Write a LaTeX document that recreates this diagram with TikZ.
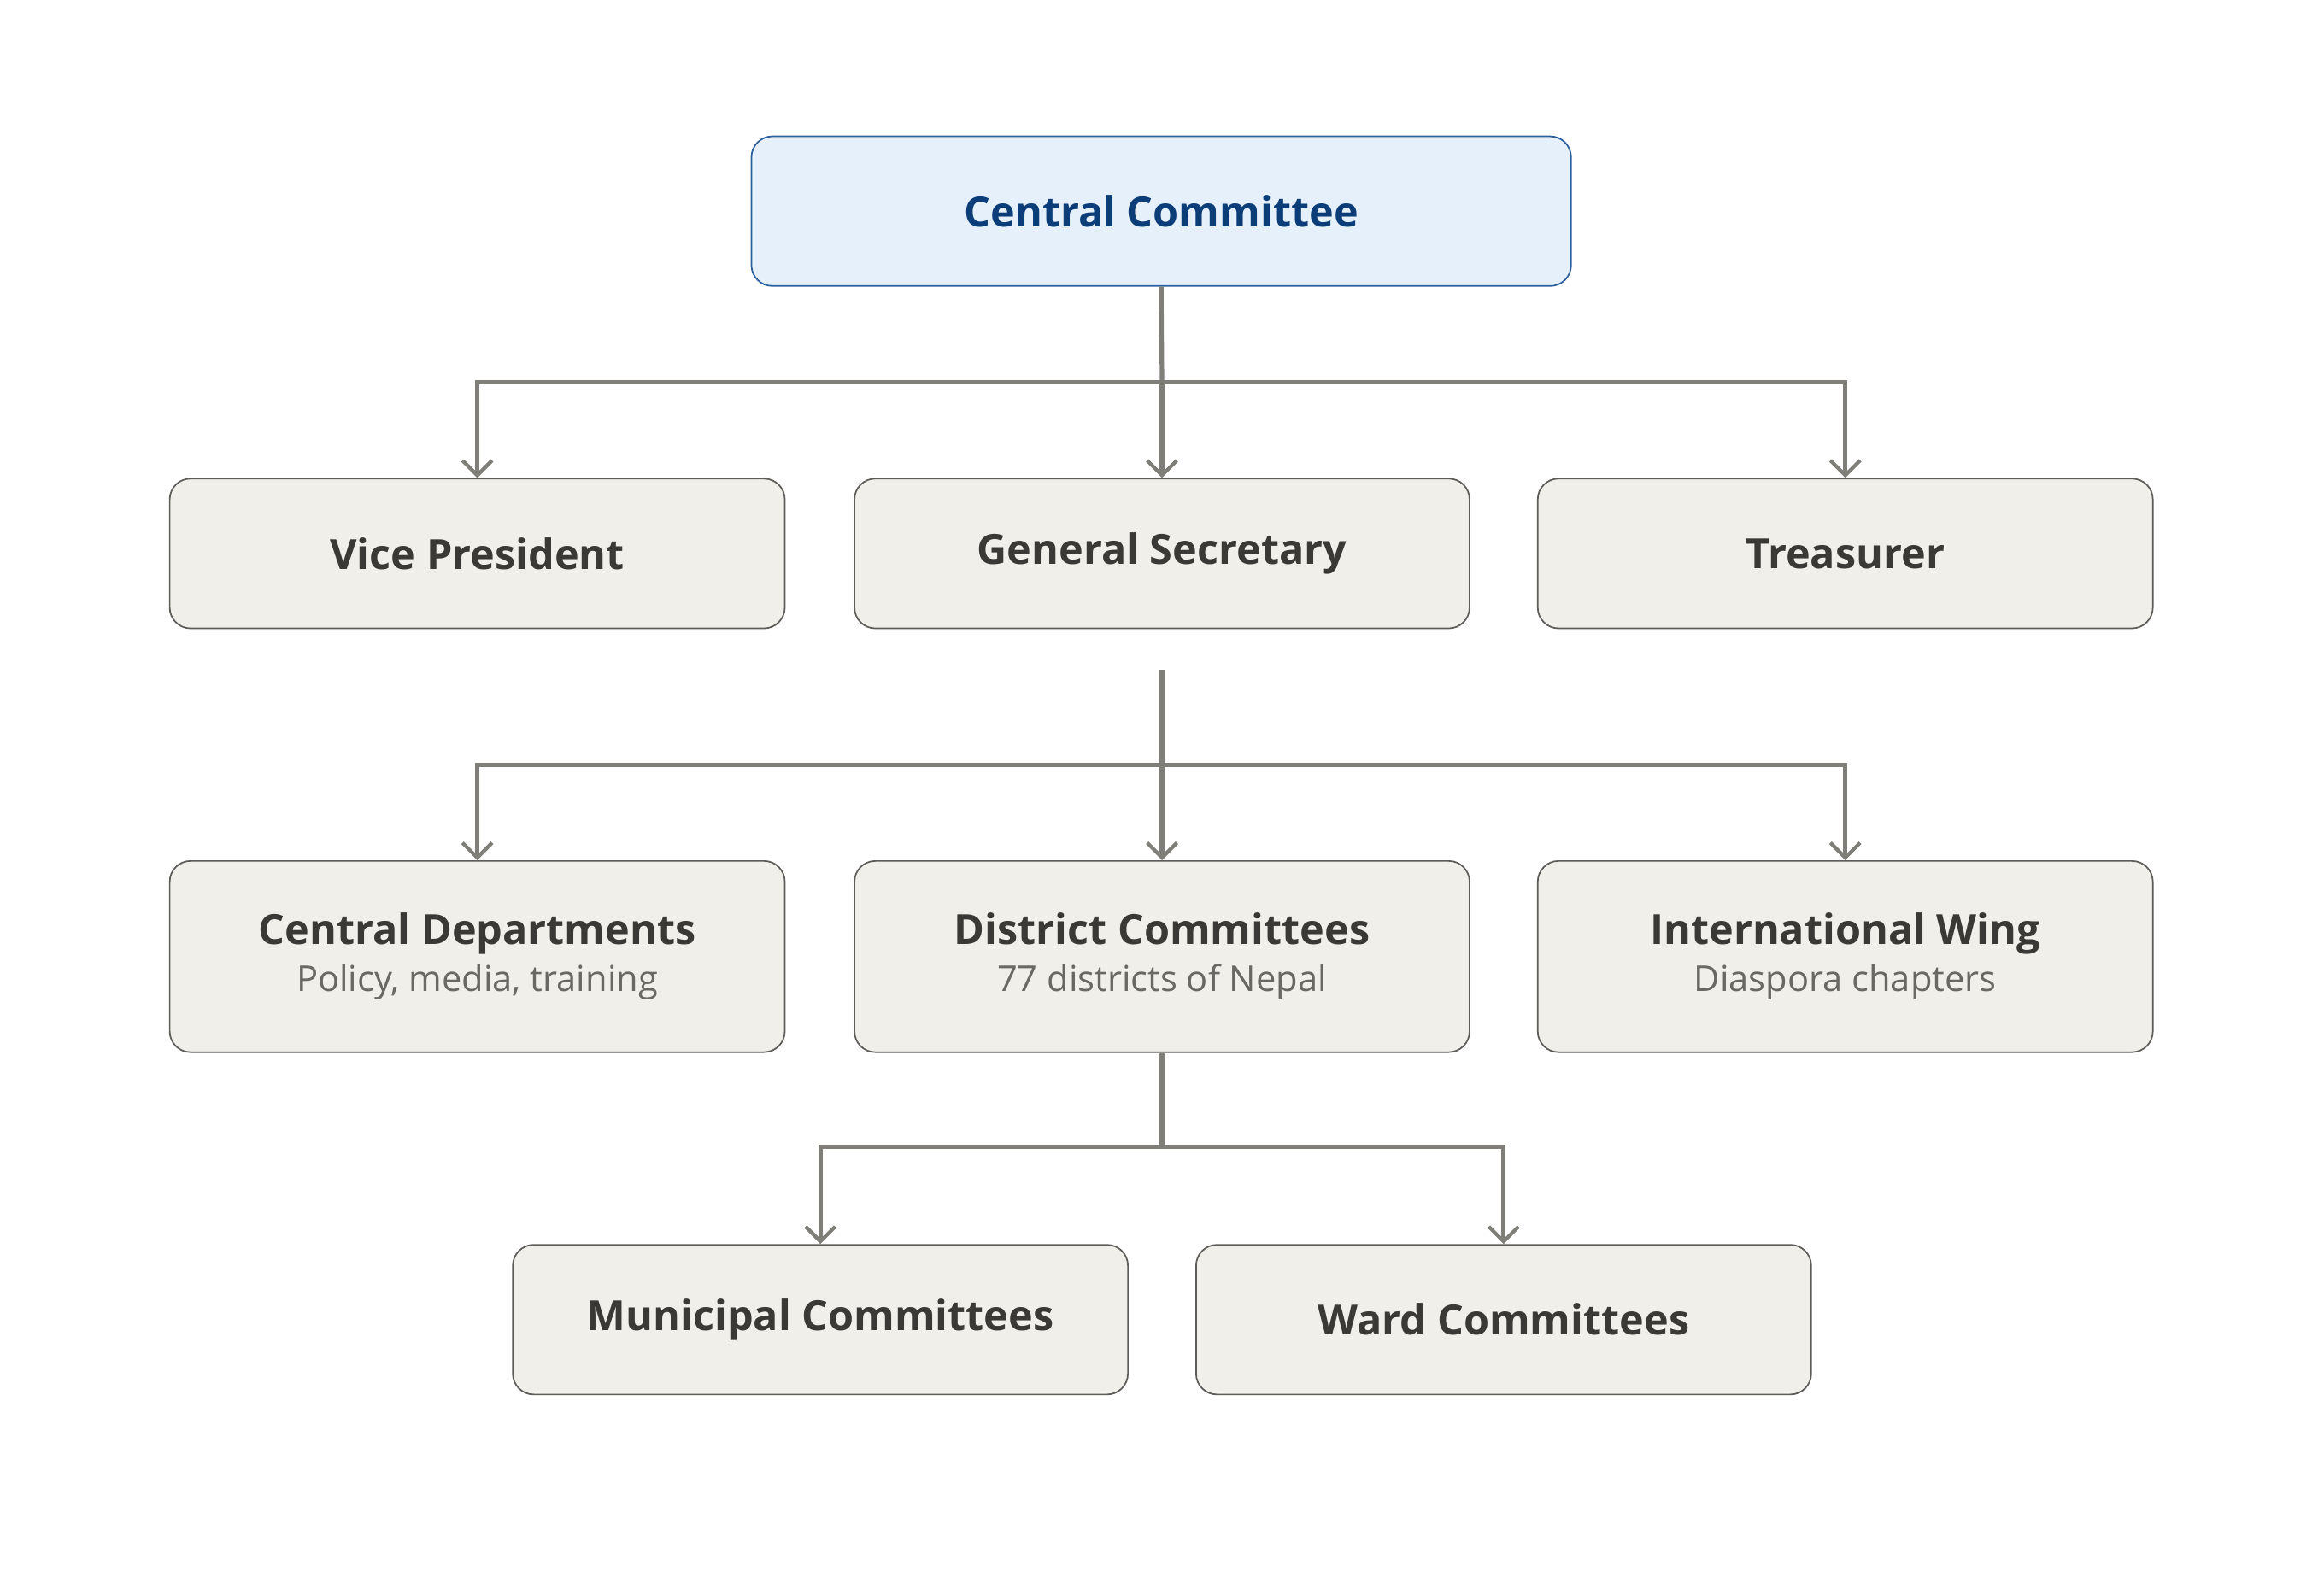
\documentclass[tikz,border=0pt]{standalone}
\usepackage{fontspec}
\setmainfont{Open Sans}
\usetikzlibrary{arrows.meta}
\definecolor{boxfill}{HTML}{F1EFE9}
\definecolor{boxline}{HTML}{5E5C58}
\definecolor{topfill}{HTML}{E6F0FA}
\definecolor{topline}{HTML}{2C5F9E}
\definecolor{toptext}{HTML}{0B3D78}
\definecolor{titletext}{HTML}{3A3935}
\definecolor{subtext}{HTML}{6A6862}
\definecolor{linkcol}{HTML}{7F7E79}
\newcommand{\subline}[1]{{\fontsize{24}{30}\selectfont\mdseries\color{subtext}#1}}

\begin{document}
\begin{tikzpicture}[x=1pt,y=-1pt,
  unit/.style = {draw=boxline, fill=boxfill, rounded corners=14pt, line width=1pt,
                 minimum width=415pt, minimum height=101pt, inner sep=0pt,
                 text=titletext, font=\fontsize{28}{34}\selectfont\bfseries, align=center},
  tall/.style = {unit, minimum height=129pt},
  top/.style  = {unit, fill=topfill, draw=topline, text=toptext, minimum width=553pt},
  link/.style = {draw=linkcol, line width=3pt},
  arr/.style  = {link, -{Straight Barb[length=10pt,width=20pt,line width=2.5pt]}}
]
\useasboundingbox (0,0) rectangle (1568,1060);

% nodes
\node[top]  (cc)  at (783.5,142.5) {Central Committee};
\node[unit] (vp)  at (322,373.5)   {Vice President};
\node[unit] (gs)  at (784,373.5)   {General Secretary};
\node[unit] (tr)  at (1245,373.5)  {Treasurer};
\node[tall] (cd)  at (322,645.5)   {Central Departments\\[-2pt]\subline{Policy, media, training}};
\node[tall] (dc)  at (784,645.5)   {District Committees\\[-2pt]\subline{77 districts of Nepal}};
\node[tall] (iw)  at (1245,645.5)  {International Wing\\[-2pt]\subline{Diaspora chapters}};
\node[unit] (mc)  at (553.5,890.5) {Municipal Committees};
\node[unit] (wc)  at (1014.5,890.5){Ward Committees};

\coordinate (hub1) at (784,258);
\coordinate (src2) at (784,452);
\coordinate (hub2) at (784,516);
\coordinate (hub3) at (784,774);

% links
\draw[link] (cc.south) -- (hub1);
\draw[arr] (hub1) -| (vp.north);
\draw[arr] (hub1) -| (tr.north);
\draw[arr] (hub1) -- (gs.north);
\draw[link] (src2) -- (hub2);
\draw[arr] (hub2) -| (cd.north);
\draw[arr] (hub2) -| (iw.north);
\draw[arr] (hub2) -- (dc.north);
\draw[link] (dc.south) -- (hub3);
\draw[arr] (hub3) -| (mc.north);
\draw[arr] (hub3) -| (wc.north);
\end{tikzpicture}
\end{document}
